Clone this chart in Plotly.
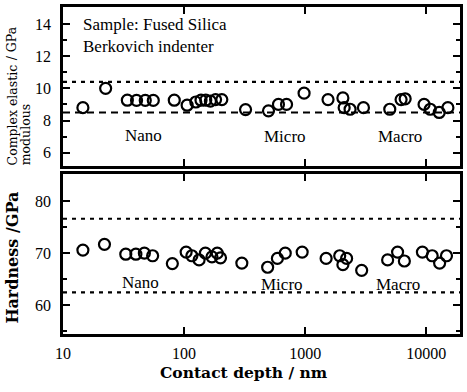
import math
import plotly.graph_objects as go

# ---- data ----
mod_depth = [14.6, 22.5, 34, 40.5, 47.8, 55.7, 83, 106, 125, 138, 151, 165, 182, 205,
             322, 498, 602, 702, 980, 1545, 2050, 2100, 2350, 3030,
             5000, 6200, 6700, 9600, 10800, 12800, 15100]
mod_vals = [8.8, 10.0, 9.26, 9.25, 9.25, 9.25, 9.26, 8.95, 9.15, 9.26, 9.26, 9.2, 9.3, 9.3,
            8.68, 8.6, 9.0, 9.0, 9.7, 9.3, 9.4, 8.8, 8.7, 8.8,
            8.7, 9.3, 9.35, 9.0, 8.7, 8.5, 8.8]
mod_bounds = [10.4, 8.5]

hard_depth = [14.6, 22, 33, 40, 47, 55, 80, 104, 116, 133, 150, 170, 188, 200,
              300, 490, 590, 685, 945, 1490, 1930, 2050, 2200, 2930,
              4800, 5800, 6600, 9300, 11200, 12900, 14700]
hard_vals = [70.6, 71.7, 69.8, 69.8, 70, 69.5, 68, 70.2, 69.5, 68.7, 70, 69.3, 70, 69.1,
             68.1, 67.3, 69, 70, 70.2, 69, 69.5, 67.8, 69, 66.7,
             68.7, 70.2, 68.5, 70.2, 69.5, 68.1, 69.5]
hard_bounds = [76.6, 62.5]

x_ticks = [10, 100, 1000, 10000]
mod_ticks = [6, 8, 10, 12, 14]
hard_ticks = [60, 70, 80]
regime_labels = ["Nano", "Micro", "Macro"]
regime_x_top = [46, 680, 6100]
regime_x_bot = [44, 640, 5800]
regime_y_top = [7.1, 7.0, 7.0]
regime_y_bot = [64.3, 64.0, 64.0]

SERIF = "'Liberation Serif', 'Times New Roman', Times, serif"
WIDE = "'DejaVu Serif', Georgia, serif"

fig = go.Figure()
marker = dict(symbol="circle-open", size=11, color="black", line=dict(width=2.2, color="black"))
fig.add_trace(go.Scatter(x=mod_depth, y=mod_vals, mode="markers", marker=marker,
                         xaxis="x2", yaxis="y2", showlegend=False))
fig.add_trace(go.Scatter(x=hard_depth, y=hard_vals, mode="markers", marker=marker,
                         xaxis="x", yaxis="y", showlegend=False))

# reference bound lines
fig.add_shape(type="line", xref="x2 domain", yref="y2", x0=0, x1=1, y0=mod_bounds[0], y1=mod_bounds[0],
              line=dict(color="black", width=2.2, dash="4px,5px"))
fig.add_shape(type="line", xref="x2 domain", yref="y2", x0=0, x1=1, y0=mod_bounds[1], y1=mod_bounds[1],
              line=dict(color="black", width=2, dash="7px,5px"))
for b in hard_bounds:
    fig.add_shape(type="line", xref="x domain", yref="y", x0=0, x1=1, y0=b, y1=b,
                  line=dict(color="black", width=2.2, dash="4px,5px"))

xcommon = dict(type="log", range=[1, 4.279], showline=True, linewidth=2.5, linecolor="black",
               mirror="ticks", ticks="inside", ticklen=7, tickwidth=2, tickcolor="black",
               tickvals=x_ticks, showgrid=False, zeroline=False)
ycommon = dict(showline=True, linewidth=2.5, linecolor="black", mirror="ticks",
               ticks="inside", ticklen=7, tickwidth=2, tickcolor="black",
               showgrid=False, zeroline=False,
               tickfont=dict(family=SERIF, size=16, color="black"), ticklabelstandoff=6)

fig.update_layout(
    width=467, height=392,
    margin=dict(l=63, r=4, t=6, b=58),
    paper_bgcolor="white", plot_bgcolor="white",
    xaxis=dict(**xcommon, anchor="y", ticktext=[str(v) for v in x_ticks],
               tickfont=dict(family=SERIF, size=16, color="black"), ticklabelstandoff=3),
    xaxis2=dict(**xcommon, anchor="y2", matches="x", showticklabels=False),
    yaxis=dict(**ycommon, domain=[0, 0.488], range=[54.5, 85.1], tickvals=hard_ticks,
               minor=dict(dtick=5, ticks="inside", ticklen=4, tickwidth=2, tickcolor="black")),
    yaxis2=dict(**ycommon, domain=[0.515, 1], range=[5.2, 15.05], tickvals=mod_ticks,
                minor=dict(dtick=1, ticks="inside", ticklen=4, tickwidth=2, tickcolor="black")),
)

def px_x(px):
    return (px - 63) / 400.0

def px_y(py):
    return (334 - py) / 328.0

ann = []
ann.append(dict(xref="x2 domain", yref="y2 domain", x=0.045, y=0.96, xanchor="left", yanchor="top",
                text="Sample: Fused Silica<br>Berkovich indenter", align="left", showarrow=False,
                font=dict(family=SERIF, size=17, color="black")))
for lab, xt, xb, ty, by in zip(regime_labels, regime_x_top, regime_x_bot, regime_y_top, regime_y_bot):
    ann.append(dict(xref="x2", yref="y2", x=math.log10(xt), y=ty, text=lab,
                    showarrow=False, font=dict(family=SERIF, size=17, color="black")))
    ann.append(dict(xref="x", yref="y", x=math.log10(xb), y=by, text=lab,
                    showarrow=False, font=dict(family=SERIF, size=17, color="black")))
ann.append(dict(xref="paper", yref="paper", x=px_x(245), y=px_y(373), text="<b>Contact depth / nm</b>",
                showarrow=False, xanchor="center", yanchor="middle",
                font=dict(family=WIDE, size=15.5, color="black")))
# top y title (three pieces)
ann.append(dict(xref="paper", yref="paper", x=px_x(12), y=px_y(167), textangle=-90,
                text="Complex elastic", showarrow=False, xanchor="center", yanchor="bottom",
                font=dict(family=WIDE, size=12.5, color="black")))
ann.append(dict(xref="paper", yref="paper", x=px_x(12), y=px_y(23), textangle=-90,
                text="/ GPa", showarrow=False, xanchor="center", yanchor="top",
                font=dict(family=WIDE, size=12.5, color="black")))
ann.append(dict(xref="paper", yref="paper", x=px_x(25), y=px_y(167), textangle=-90,
                text="modulous", showarrow=False, xanchor="center", yanchor="bottom",
                font=dict(family=WIDE, size=12.5, color="black")))
ann.append(dict(xref="paper", yref="paper", x=px_x(12), y=px_y(257), textangle=-90,
                text="<b>Hardness /GPa</b>", showarrow=False, xanchor="center", yanchor="middle",
                font=dict(family=WIDE, size=16, color="black")))
fig.update_layout(annotations=ann)

fig.write_html("out.html")
